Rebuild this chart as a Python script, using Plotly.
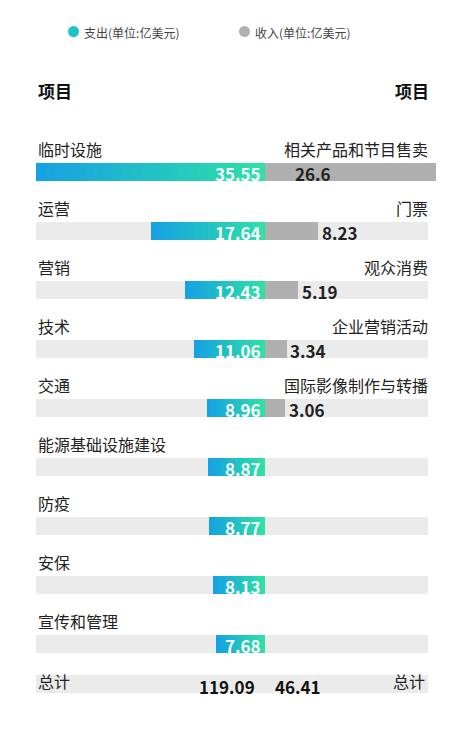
import plotly.graph_objects as go

# data
spend_items = ["临时设施", "运营", "营销", "技术", "交通", "能源基础设施建设", "防疫", "安保", "宣传和管理"]
spend_vals = [35.55, 17.64, 12.43, 11.06, 8.96, 8.87, 8.77, 8.13, 7.68]
income_items = ["相关产品和节目售卖", "门票", "观众消费", "企业营销活动", "国际影像制作与转播"]
income_vals = [26.6, 8.23, 5.19, 3.34, 3.06]
spend_total = 119.09
income_total = 46.41

FONT = "Noto Sans CJK SC"
PX = 6.44  # pixels per unit
OFF = 8    # page body offset
X0 = (OFF - 265) / PX
X1 = (464 + OFF - 265) / PX
BG_L = -35.55
BG_R = (428 - 265) / PX

row_y = [172 + 59 * i for i in range(len(spend_items))]
total_y = 684
BH = 18


def mix(c1, c2, t):
    return "rgb(%d,%d,%d)" % tuple(round(a + (b - a) * t) for a, b in zip(c1, c2))


BLUE = (22, 160, 228)
GREEN = (45, 226, 166)

fig = go.Figure()

# background grey rails
fig.add_trace(go.Bar(
    y=row_y + [total_y], x=[BG_R - BG_L] * (len(row_y) + 1), base=[BG_L] * (len(row_y) + 1),
    orientation="h", width=BH, marker=dict(color="#ebebeb", line_width=0),
    hoverinfo="skip", showlegend=False))

# spending bars with a gradient made of slices
N = 24
for k in range(N):
    xs = [v / N for v in spend_vals]
    bases = [-v + v * k / N for v in spend_vals]
    fig.add_trace(go.Bar(
        y=row_y, x=xs, base=bases, orientation="h", width=BH,
        marker=dict(color=mix(BLUE, GREEN, (k + 0.5) / N), line_width=0),
        hoverinfo="skip", showlegend=False))

# income bars
fig.add_trace(go.Bar(
    y=row_y[:len(income_vals)], x=income_vals, base=[0] * len(income_vals),
    orientation="h", width=BH, marker=dict(color="#b0b0b0", line_width=0),
    hoverinfo="skip", showlegend=False))

ann = []
for i, (name, v) in enumerate(zip(spend_items, spend_vals)):
    y = row_y[i]
    ann.append(dict(x=BG_L, y=y - 23, text=name, xanchor="left", showarrow=False,
                    font=dict(size=16, color="#222")))
    ann.append(dict(x=-0.3, y=y + 1, text="<b>%.2f</b>" % v, xanchor="right", showarrow=False,
                    font=dict(size=17, color="white")))
for i, (name, v) in enumerate(zip(income_items, income_vals)):
    y = row_y[i]
    ann.append(dict(x=25.6, y=y - 23, text=name, xanchor="right", showarrow=False,
                    font=dict(size=16, color="#222")))
    ann.append(dict(x=v + 0.3 if v < 20 else 4.3, y=y + 1, text="<b>%g</b>" % v, xanchor="left",
                    showarrow=False, font=dict(size=17, color="#222")))

ann += [
    dict(x=BG_L, y=total_y - 3, text="总计", xanchor="left", showarrow=False, font=dict(size=16, color="#222")),
    dict(x=BG_R - 0.2, y=total_y - 3, text="总计", xanchor="right", showarrow=False, font=dict(size=16, color="#222")),
    dict(x=-1.2, y=total_y + 2, text="<b>%.2f</b>" % spend_total, xanchor="right", showarrow=False,
         font=dict(size=17, color="#111")),
    dict(x=1.2, y=total_y + 2, text="<b>%.2f</b>" % income_total, xanchor="left", showarrow=False,
         font=dict(size=17, color="#111")),
    dict(x=BG_L, y=90, text="<b>项目</b>", xanchor="left", showarrow=False, font=dict(size=17, color="#111")),
    dict(x=25.8, y=90, text="<b>项目</b>", xanchor="right", showarrow=False, font=dict(size=17, color="#111")),
    dict(x=(82 - 265) / PX, y=32, text="支出(单位:亿美元)", xanchor="left", showarrow=False,
         font=dict(size=12, color="#444")),
    dict(x=(253 - 265) / PX, y=32, text="收入(单位:亿美元)", xanchor="left", showarrow=False,
         font=dict(size=12, color="#444")),
]

shapes = [
    dict(type="circle", xref="x", yref="y", x0=(68 - 265) / PX, x1=(79 - 265) / PX, y0=26, y1=37,
         fillcolor="#1ec3c8", line_width=0),
    dict(type="circle", xref="x", yref="y", x0=(239 - 265) / PX, x1=(250 - 265) / PX, y0=26, y1=37,
         fillcolor="#b0b0b0", line_width=0),
]

fig.update_layout(
    width=464, height=735, margin=dict(l=0, r=0, t=0, b=0),
    paper_bgcolor="white", plot_bgcolor="white",
    barmode="overlay", bargap=0,
    font=dict(family=FONT),
    xaxis=dict(range=[X0, X1], visible=False, fixedrange=True),
    yaxis=dict(range=[735 + OFF, OFF], visible=False, fixedrange=True),
    annotations=ann, shapes=shapes,
)

fig.write_html("out.html")
